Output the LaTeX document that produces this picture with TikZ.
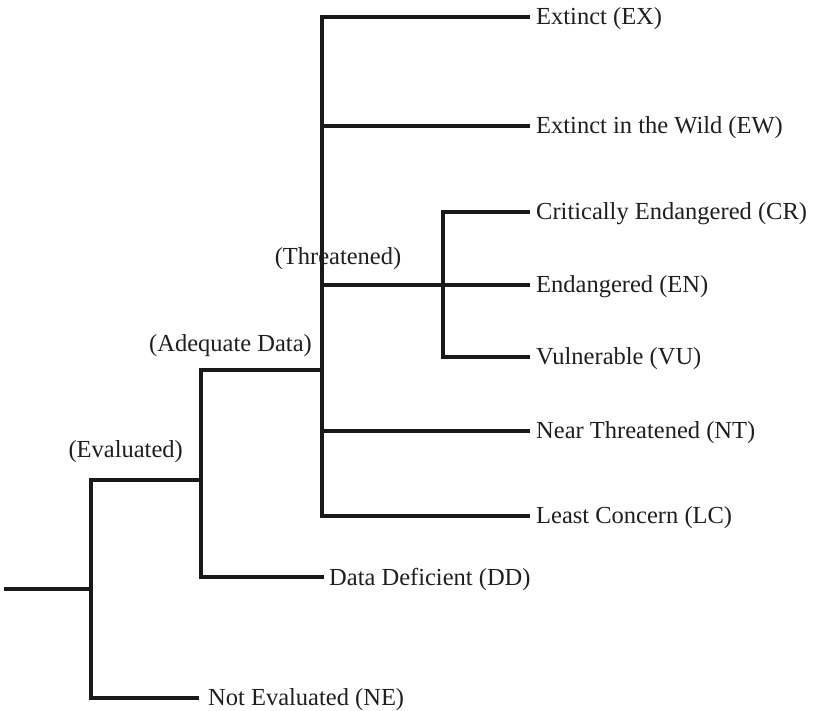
\documentclass[tikz,border=0pt]{standalone}
\usepackage{fontspec}
\setmainfont{Liberation Serif}
\begin{document}
\begin{tikzpicture}[x=1pt,y=-1pt,
  branch/.style={line width=3.4pt,draw=black!90,line cap=rect,line join=miter},
  leaf/.style={anchor=west,inner sep=0pt,yshift=-2pt,font=\fontsize{24.5}{28}\selectfont,text=black!88},
  grouplabel/.style={inner sep=0pt,font=\fontsize{24.5}{28}\selectfont,text=black!88}]
\useasboundingbox (0,0) rectangle (815,711);

% junction points of the tree
\coordinate (root) at (6,589);
\coordinate (ev) at (91,589);
\coordinate (evTop) at (91,480);
\coordinate (evBot) at (91,698);
\coordinate (adTop) at (201,370);
\coordinate (adMid) at (201,480);
\coordinate (adBot) at (201,577);
\coordinate (thTop) at (322,17);
\coordinate (thEW) at (322,126);
\coordinate (thEN) at (322,285);
\coordinate (thMid) at (322,370);
\coordinate (thNT) at (322,431);
\coordinate (thBot) at (322,516);
\coordinate (enTop) at (443,212);
\coordinate (enBot) at (443,357);

% group labels
\node[grouplabel,anchor=east] (lEval) at (183,452) {(Evaluated)};
\node[grouplabel,anchor=east] (lAdeq) at (312,346) {(Adequate Data)};
\node[grouplabel] (lThr) at (338,259) {(Threatened)};

% category names
\node[leaf] (EX) at (536,17) {Extinct (EX)};
\node[leaf] (EW) at (536,126) {Extinct in the Wild (EW)};
\node[leaf] (CR) at (536,212) {Critically Endangered (CR)};
\node[leaf] (EN) at (536,285) {Endangered (EN)};
\node[leaf] (VU) at (536,357) {Vulnerable (VU)};
\node[leaf] (NT) at (536,431) {Near Threatened (NT)};
\node[leaf] (LC) at (536,516) {Least Concern (LC)};
\node[leaf] (DD) at (329,577) {Data Deficient (DD)};
\node[leaf] (NE) at (208,698) {Not Evaluated (NE)};

% tree
\draw[branch] (root) -- (ev);
\draw[branch] (evTop) -- (evBot);
\draw[branch] (evTop) -- (adMid);
\draw[branch] (evBot) -- ([xshift=-11pt]NE.west |- evBot);
\draw[branch] (adTop) -- (adBot);
\draw[branch] (adTop) -- (thMid);
\draw[branch] (adBot) -- ([xshift=-7pt]DD.west |- adBot);
\draw[branch] (thTop) -- (thBot);
\draw[branch] (thTop) -- ([xshift=-8pt]EX.west |- thTop);
\draw[branch] (thEW) -- ([xshift=-8pt]EW.west |- thEW);
\draw[branch] (thEN) -- ([xshift=-8pt]EN.west |- thEN);
\draw[branch] (thNT) -- ([xshift=-8pt]NT.west |- thNT);
\draw[branch] (thBot) -- ([xshift=-8pt]LC.west |- thBot);
\draw[branch] (enTop) -- (enBot);
\draw[branch] (enTop) -- ([xshift=-8pt]CR.west |- enTop);
\draw[branch] (enBot) -- ([xshift=-8pt]VU.west |- enBot);
\end{tikzpicture}
\end{document}
